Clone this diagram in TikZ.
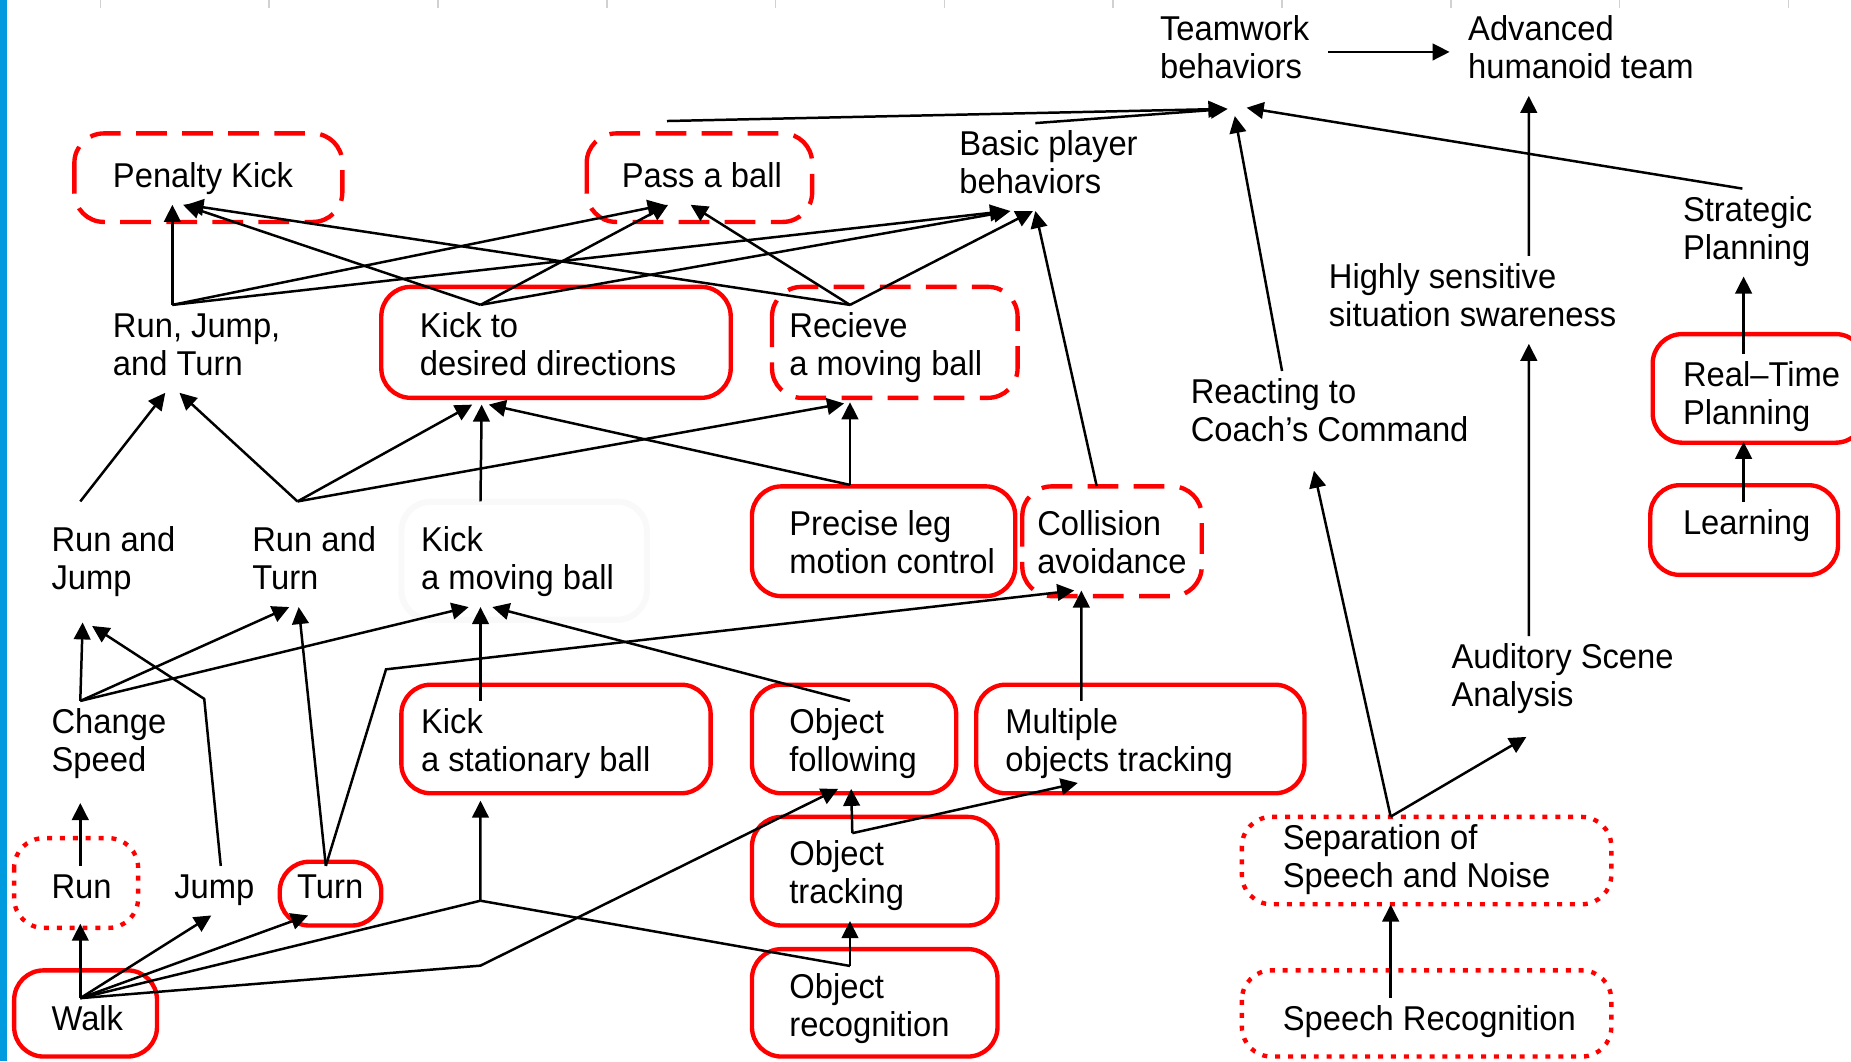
\documentclass[tikz,border=0pt]{standalone}
\usepackage{fontspec}
\setmainfont{Liberation Sans}[FakeStretch=0.95]
\usetikzlibrary{arrows.meta}
\definecolor{barblue}{RGB}{0,155,222}
\tikzset{
  lbl/.style={anchor=west, inner xsep=0pt, inner ysep=0.04cm, font=\fontsize{8.3}{9.25}\selectfont},
  arr/.style={-{Triangle[length=4.1pt,width=4pt]}, line width=0.6pt},
  ln/.style={line width=0.6pt},
  solidbox/.style={draw=red, line width=1.05pt, rounded corners=0.25cm},
  dashbox/.style={solidbox, dash pattern=on 7.4pt off 3.7pt},
  dotbox/.style={solidbox, dash pattern=on 1.2pt off 1.9pt},
}
\begin{document}
\begin{tikzpicture}[x=0.01cm,y=-0.01cm]
    \useasboundingbox (0,0) rectangle (1568,899);
    \fill[barblue] (0,0) rectangle (6,899);
    \foreach \t in {85,228,...,1515} \draw[black!18,line width=0.4pt] (\t,0) -- (\t,7);
    % frames
    \draw[dashbox] (63,113) rectangle (290,188);
    \draw[dashbox] (497,113) rectangle (688,188);
    \draw[solidbox] (323,243) rectangle (619,337);
    \draw[dashbox] (654,243) rectangle (862,337);
    \draw[solidbox] (1400,283) rectangle (1580,375);
    \draw[solidbox] (1398,411) rectangle (1557,487);
    \draw[black!2.5,line width=1.5pt,rounded corners=0.25cm] (340,425) rectangle (548,525);
    \draw[solidbox] (637,412) rectangle (860,505);
    \draw[dashbox] (866,412) rectangle (1018,505);
    \draw[solidbox] (340,580) rectangle (602,672);
    \draw[solidbox] (637,580) rectangle (810,672);
    \draw[solidbox] (827,580) rectangle (1105,672);
    \draw[dotbox] (12,710) rectangle (117,786);
    \draw[solidbox] (237,730) rectangle (323,784);
    \draw[solidbox] (637,692) rectangle (845,784);
    \draw[dotbox] (1052,692) rectangle (1365,766);
    \draw[solidbox] (12,822) rectangle (133,895);
    \draw[solidbox] (637,804) rectangle (845,895);
    \draw[dotbox] (1052,822) rectangle (1365,895);
    % labels
    \node[lbl] (team) at (982,44) {\begin{tabular}{@{}l@{}}Teamwork\\behaviors\end{tabular}};
    \node[lbl] (adv) at (1243,44) {\begin{tabular}{@{}l@{}}Advanced\\humanoid team\end{tabular}};
    \node[lbl] (penalty) at (95,152.5) {\begin{tabular}{@{}l@{}}Penalty Kick\end{tabular}};
    \node[lbl] (pass) at (526,152.5) {\begin{tabular}{@{}l@{}}Pass a ball\end{tabular}};
    \node[lbl] (basic) at (812,141.5) {\begin{tabular}{@{}l@{}}Basic player\\behaviors\end{tabular}};
    \node[lbl] (strat) at (1425,197) {\begin{tabular}{@{}l@{}}Strategic\\Planning\end{tabular}};
    \node[lbl] (high) at (1125,254) {\begin{tabular}{@{}l@{}}Highly sensitive\\situation swareness\end{tabular}};
    \node[lbl] (rjt) at (95,295.5) {\begin{tabular}{@{}l@{}}Run, Jump,\\and Turn\end{tabular}};
    \node[lbl] (kickdir) at (355,295.5) {\begin{tabular}{@{}l@{}}Kick to\\desired directions\end{tabular}};
    \node[lbl] (recv) at (668,295.5) {\begin{tabular}{@{}l@{}}Recieve\\a moving ball\end{tabular}};
    \node[lbl] (react) at (1008,351.5) {\begin{tabular}{@{}l@{}}Reacting to\\Coach's Command\end{tabular}};
    \node[lbl] (rtp) at (1425,337) {\begin{tabular}{@{}l@{}}Real--Time\\Planning\end{tabular}};
    \node[lbl] (learn) at (1425,446.5) {\begin{tabular}{@{}l@{}}Learning\end{tabular}};
    \node[lbl] (rj) at (43,477) {\begin{tabular}{@{}l@{}}Run and\\Jump\end{tabular}};
    \node[lbl] (rt) at (213,477) {\begin{tabular}{@{}l@{}}Run and\\Turn\end{tabular}};
    \node[lbl] (kickmov) at (356,477) {\begin{tabular}{@{}l@{}}Kick\\a moving ball\end{tabular}};
    \node[lbl] (precise) at (668,463) {\begin{tabular}{@{}l@{}}Precise leg\\motion control\end{tabular}};
    \node[lbl] (coll) at (878,463) {\begin{tabular}{@{}l@{}}Collision\\avoidance\end{tabular}};
    \node[lbl] (speed) at (43,631) {\begin{tabular}{@{}l@{}}Change\\Speed\end{tabular}};
    \node[lbl] (kickstat) at (356,631) {\begin{tabular}{@{}l@{}}Kick\\a stationary ball\end{tabular}};
    \node[lbl] (objfol) at (668,631) {\begin{tabular}{@{}l@{}}Object\\following\end{tabular}};
    \node[lbl] (multi) at (851,631) {\begin{tabular}{@{}l@{}}Multiple\\objects tracking\end{tabular}};
    \node[lbl] (audit) at (1229,576) {\begin{tabular}{@{}l@{}}Auditory Scene\\Analysis\end{tabular}};
    \node[lbl] (run) at (43,754.5) {\begin{tabular}{@{}l@{}}Run\end{tabular}};
    \node[lbl] (jump) at (147,754.5) {\begin{tabular}{@{}l@{}}Jump\end{tabular}};
    \node[lbl] (turn) at (251,754.5) {\begin{tabular}{@{}l@{}}Turn\end{tabular}};
    \node[lbl] (objtrk) at (668,743) {\begin{tabular}{@{}l@{}}Object\\tracking\end{tabular}};
    \node[lbl] (sep) at (1086,729) {\begin{tabular}{@{}l@{}}Separation of\\Speech and Noise\end{tabular}};
    \node[lbl] (walk) at (43,866.5) {\begin{tabular}{@{}l@{}}Walk\end{tabular}};
    \node[lbl] (objrec) at (668,855.5) {\begin{tabular}{@{}l@{}}Object\\recognition\end{tabular}};
    \node[lbl] (speech) at (1086,866.5) {\begin{tabular}{@{}l@{}}Speech Recognition\end{tabular}};
    \coordinate (kj) at (407,763);
    % team level
    \draw[arr] ([xshift=1.43cm]team.west) -- ([xshift=-0.15cm]adv.west);
    \draw[arr] ([xshift=0.39cm,yshift=0.29cm]pass.north west) -- ([xshift=0.56cm,yshift=-0.11cm]team.south west);
    \draw[arr] ([xshift=0.65cm]basic.north west) -- ([xshift=0.58cm,yshift=-0.11cm]team.south west);
    \draw[arr] ([xshift=0.51cm]strat.north west) -- ([xshift=0.74cm,yshift=-0.10cm]team.south west);
    \draw[arr] ([xshift=0.78cm]react.north west) -- ([xshift=0.64cm,yshift=-0.17cm]team.south west);
    \draw[arr] ([xshift=1.70cm]high.north west) -- ([xshift=0.52cm]adv.south west);
    \draw[arr] ([xshift=0.52cm]rtp.north west) -- ([xshift=0.52cm]strat.south west);
    \draw[arr] ([xshift=0.52cm]learn.north west) -- ([xshift=0.52cm]rtp.south west);
    \draw[arr] ([xshift=0.66cm]audit.north west) -- ([xshift=1.70cm]high.south west);
    \draw[arr] ([xshift=0.92cm]sep.north west) -- ([xshift=0.64cm,yshift=-0.11cm]audit.south west);
    \draw[arr] ([xshift=0.92cm]sep.north west) -- ([xshift=1.05cm,yshift=-0.10cm]react.south west);
    \draw[arr] ([xshift=0.92cm]speech.north west) -- ([xshift=0.92cm]sep.south west);
    % player level
    \draw[arr] ([xshift=0.51cm]rjt.north west) -- ([xshift=0.51cm]penalty.south west);
    \draw[arr] ([xshift=0.51cm]rjt.north west) -- ([xshift=0.37cm]pass.south west);
    \draw[arr] ([xshift=0.51cm]rjt.north west) -- ([xshift=0.41cm]basic.south west);
    \draw[arr] ([xshift=0.52cm]kickdir.north west) -- ([xshift=0.60cm]penalty.south west);
    \draw[arr] ([xshift=0.52cm]kickdir.north west) -- ([xshift=0.40cm]pass.south west);
    \draw[arr] ([xshift=0.52cm]kickdir.north west) -- ([xshift=0.44cm]basic.south west);
    \draw[arr] ([xshift=0.52cm]recv.north west) -- ([xshift=0.63cm]penalty.south west);
    \draw[arr] ([xshift=0.52cm]recv.north west) -- ([xshift=0.59cm]pass.south west);
    \draw[arr] ([xshift=0.52cm]recv.north west) -- ([xshift=0.63cm]basic.south west);
    \draw[arr] ([xshift=0.51cm,yshift=0.14cm]coll.north west) -- ([xshift=0.65cm]basic.south west);
    % skills
    \draw[arr] ([xshift=0.25cm,yshift=0.15cm]rj.north west) -- ([xshift=0.45cm]rjt.south west);
    \draw[arr] ([xshift=0.39cm,yshift=0.15cm]rt.north west) -- ([xshift=0.57cm]rjt.south west);
    \draw[arr] ([xshift=0.39cm,yshift=0.15cm]rt.north west) -- ([xshift=0.45cm,yshift=-0.10cm]kickdir.south west);
    \draw[arr] ([xshift=0.39cm,yshift=0.15cm]rt.north west) -- ([xshift=0.47cm,yshift=-0.09cm]recv.south west);
    \draw[arr] ([xshift=0.51cm,yshift=0.15cm]kickmov.north west) -- ([xshift=0.53cm,yshift=-0.10cm]kickdir.south west);
    \draw[arr] ([xshift=0.52cm,yshift=0.15cm]precise.north west) -- ([xshift=0.59cm,yshift=-0.10cm]kickdir.south west);
    \draw[arr] ([xshift=0.52cm,yshift=0.15cm]precise.north west) -- ([xshift=0.52cm,yshift=-0.08cm]recv.south west);
    % basic motions
    \draw[arr] ([xshift=0.25cm]speed.north west) -- ([xshift=0.27cm,yshift=-0.13cm]rj.south west);
    \draw[arr] ([xshift=0.25cm]speed.north west) -- ([xshift=0.32cm]rt.south west);
    \draw[arr] ([xshift=0.25cm]speed.north west) -- ([xshift=0.41cm]kickmov.south west);
    \draw[arr] ([xshift=0.40cm]jump.north west) -- (173,592) -- ([xshift=0.35cm,yshift=-0.16cm]rj.south west);
    \draw[arr] ([xshift=0.25cm]turn.north west) -- ([xshift=0.40cm]rt.south west);
    \draw[arr] ([xshift=0.25cm]turn.north west) -- (327,567) -- ([xshift=0.32cm]coll.south west);
    \draw[arr] ([xshift=0.51cm]kickstat.north west) -- ([xshift=0.51cm]kickmov.south west);
    \draw[arr] ([xshift=0.52cm]objfol.north west) -- ([xshift=0.61cm]kickmov.south west);
    \draw[arr] ([xshift=0.65cm]multi.north west) -- ([xshift=0.38cm]coll.south west);
    \draw[arr] ([xshift=0.25cm]run.north west) -- ([xshift=0.25cm,yshift=-0.12cm]speed.south west);
    \draw[arr] ([xshift=0.25cm]walk.north west) -- ([xshift=0.25cm,yshift=-0.07cm]run.south west);
    \draw[arr] ([xshift=0.25cm]walk.north west) -- ([xshift=0.32cm]jump.south west);
    \draw[arr] ([xshift=0.25cm]walk.north west) -- ([xshift=0.10cm]turn.south west);
    \draw[ln] ([xshift=0.25cm]walk.north west) -- (kj);
    \draw[ln] ([xshift=0.52cm]objrec.north west) -- (kj);
    \draw[arr] (kj) -- ([xshift=0.51cm,yshift=-0.10cm]kickstat.south west);
    \draw[arr] ([xshift=0.25cm]walk.north west) -- (407,818) -- ([xshift=0.42cm]objfol.south west);
    \draw[arr] ([xshift=0.54cm]objtrk.north west) -- ([xshift=0.53cm]objfol.south west);
    \draw[arr] ([xshift=0.54cm]objtrk.north west) -- ([xshift=0.62cm,yshift=0.05cm]multi.south west);
    \draw[arr] ([xshift=0.52cm]objrec.north west) -- ([xshift=0.52cm]objtrk.south west);
  \end{tikzpicture}
\end{document}
